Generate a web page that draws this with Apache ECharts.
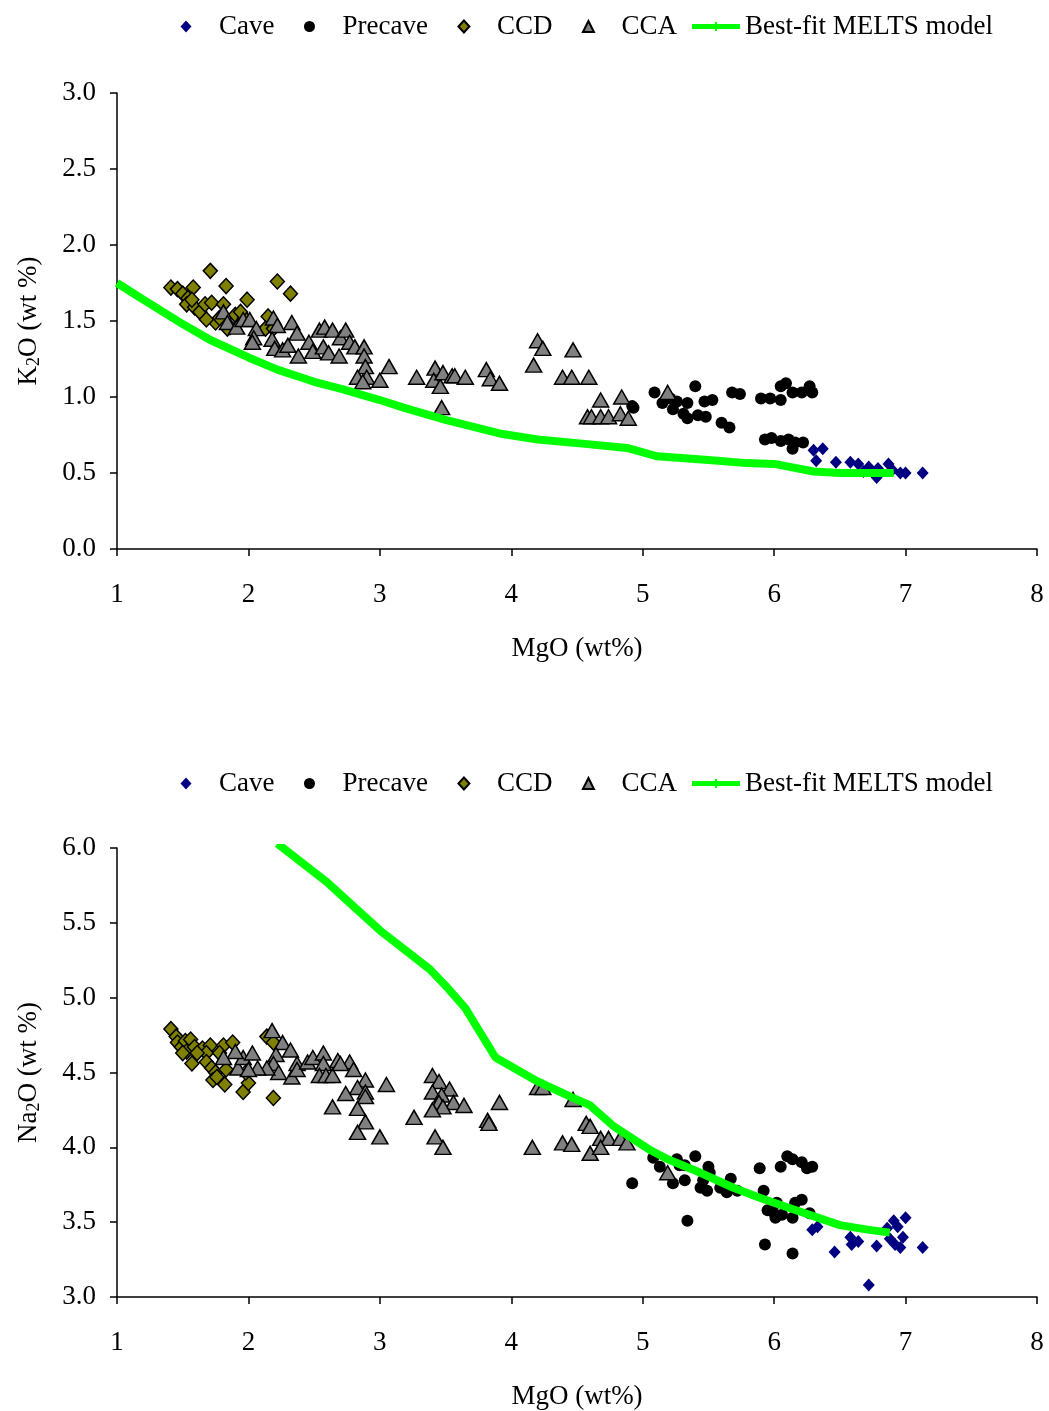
<!doctype html>
<html lang="en">
<head>
    <meta charset="UTF-8">
    <title>MgO variation diagrams</title>
    <script src="https://cdn.jsdelivr.net/npm/echarts@6/dist/echarts.min.js"></script>
    <style>
        html, body { margin: 0; padding: 0; background: #fff; }
        #chart { width: 1049px; height: 1411px; }
    </style>
</head>
<body>
<div id="chart"></div>
<script>
    // ---- data: [MgO, oxide] ----
    var legendNames = ['Cave', 'Precave', 'CCD', 'CCA', 'Best-fit MELTS model'];

    // top panel: K2O vs MgO
    var caveK = [[6.30,0.65],[6.37,0.66],[6.32,0.58],[6.47,0.57],[6.58,0.57],[6.64,0.56],[6.72,0.54],[6.79,0.53],
        [6.87,0.56],[6.90,0.52],[6.96,0.50],[7.00,0.50],[7.13,0.50],[6.78,0.47],[6.68,0.51]];
    var precaveK = [[4.92,0.94],[5.09,1.03],[5.15,0.96],[5.21,0.99],[5.26,0.97],[5.34,0.96],[5.23,0.92],[5.31,0.89],
        [5.34,0.86],[5.40,1.07],[5.42,0.88],[5.48,0.87],[5.47,0.97],[5.53,0.98],[5.60,0.83],[5.66,0.80],[5.68,1.03],
        [5.74,1.02],[5.90,0.99],[6.05,0.98],[6.05,1.07],[6.09,1.09],[6.14,1.03],[6.21,1.03],[6.27,1.07],[6.29,1.03],
        [5.93,0.72],[5.98,0.73],[6.05,0.71],[6.11,0.72],[6.16,0.70],[6.22,0.70],[6.14,0.66],[4.93,0.93],[5.97,0.99]];
    var ccdK = [[1.41,1.72],[1.46,1.71],[1.50,1.68],[1.54,1.65],[1.58,1.72],[1.71,1.83],[1.83,1.73],[1.99,1.64],
        [2.22,1.76],[2.32,1.68],[1.53,1.61],[1.59,1.59],[1.63,1.56],[1.67,1.61],[1.72,1.62],[1.75,1.49],[1.78,1.52],
        [1.86,1.46],[1.90,1.54],[1.97,1.52],[2.15,1.53],[2.13,1.45],[1.68,1.51],[1.57,1.64],[1.81,1.61],[1.94,1.56],
        [2.19,1.45],[1.84,1.45]];
    var ccaK = [[1.81,1.56],[1.84,1.49],[1.91,1.46],[1.96,1.51],[2.01,1.51],[2.06,1.45],[2.04,1.39],[2.03,1.36],
        [2.19,1.52],[2.22,1.47],[2.33,1.49],[2.37,1.42],[2.18,1.38],[2.20,1.32],[2.26,1.31],[2.30,1.34],[2.38,1.27],
        [2.46,1.36],[2.49,1.30],[2.54,1.44],[2.58,1.46],[2.64,1.44],[2.70,1.39],[2.74,1.44],[2.57,1.33],[2.61,1.29],
        [2.69,1.27],[2.77,1.36],[2.81,1.33],[2.88,1.33],[2.88,1.27],[2.89,1.20],[2.83,1.13],[2.90,1.13],[2.87,1.10],
        [3.00,1.11],[3.07,1.20],[3.28,1.13],[3.42,1.19],[3.41,1.11],[3.46,1.07],[3.48,1.16],[3.55,1.14],[3.57,1.14],
        [3.65,1.13],[3.81,1.18],[3.84,1.12],[3.91,1.09],[3.47,0.93],[4.20,1.37],[4.24,1.32],[4.17,1.21],[4.47,1.31],
        [4.39,1.13],[4.46,1.13],[4.59,1.13],[4.68,0.98],[4.84,1.00],[4.58,0.87],[4.61,0.87],[4.68,0.87],[4.74,0.87],
        [4.83,0.89],[4.89,0.86],[5.19,1.03]];
    var meltsK = [[1.0,1.75],[1.2,1.64],[1.5,1.48],[1.71,1.375],[2.0,1.26],[2.22,1.18],[2.5,1.10],[2.72,1.05],
        [3.0,0.98],[3.18,0.93],[3.5,0.85],[3.91,0.76],[4.2,0.72],[4.58,0.69],[4.88,0.665],[5.11,0.61],[5.5,0.585],
        [5.79,0.565],[6.0,0.56],[6.3,0.51],[6.5,0.50],[6.91,0.50]];

    // bottom panel: Na2O vs MgO
    var caveNa = [[6.29,3.45],[6.33,3.47],[6.46,3.30],[6.58,3.40],[6.59,3.35],[6.64,3.37],[6.78,3.34],[6.72,3.08],
        [6.86,3.46],[6.91,3.51],[6.94,3.47],[7.00,3.53],[6.88,3.39],[6.96,3.33],[6.98,3.40],[7.13,3.33],[6.92,3.35]];
    var precaveNa = [[4.92,3.76],[5.08,3.93],[5.13,3.87],[5.26,3.92],[5.28,3.88],[5.32,3.88],[5.40,3.94],[5.23,3.76],
        [5.32,3.78],[5.34,3.51],[5.44,3.73],[5.49,3.71],[5.50,3.87],[5.51,3.83],[5.46,3.78],[5.59,3.73],[5.64,3.70],
        [5.67,3.79],[5.72,3.71],[5.89,3.86],[5.92,3.71],[5.93,3.35],[5.95,3.58],[5.99,3.57],[6.02,3.63],[6.01,3.53],
        [6.06,3.55],[6.14,3.53],[6.16,3.63],[6.21,3.65],[6.05,3.87],[6.10,3.94],[6.14,3.92],[6.21,3.90],[6.25,3.86],
        [6.29,3.87],[6.14,3.29],[6.27,3.56]];
    var ccdNa = [[1.41,4.79],[1.45,4.74],[1.46,4.70],[1.49,4.67],[1.52,4.71],[1.56,4.72],[1.53,4.64],[1.50,4.63],
        [1.57,4.56],[1.59,4.67],[1.65,4.66],[1.71,4.68],[1.68,4.63],[1.68,4.57],[1.72,4.53],[1.75,4.50],[1.73,4.45],
        [1.76,4.47],[1.81,4.68],[1.88,4.70],[1.82,4.42],[1.83,4.52],[1.96,4.37],[2.00,4.43],[1.98,4.50],[2.14,4.74],
        [2.19,4.70],[2.19,4.33],[1.61,4.63],[1.78,4.63]];
    var ccaNa = [[2.18,4.78],[2.26,4.70],[2.32,4.65],[2.21,4.62],[2.19,4.56],[2.23,4.50],[2.14,4.53],[2.07,4.53],
        [1.92,4.53],[1.96,4.60],[2.03,4.63],[1.90,4.64],[1.81,4.60],[2.00,4.52],[2.33,4.47],[2.37,4.56],[2.37,4.52],
        [2.45,4.57],[2.49,4.60],[2.57,4.63],[2.57,4.56],[2.54,4.48],[2.59,4.48],[2.64,4.48],[2.68,4.58],[2.77,4.57],
        [2.80,4.52],[2.70,4.56],[2.89,4.45],[2.83,4.40],[2.89,4.37],[2.89,4.34],[2.74,4.36],[3.05,4.42],[2.64,4.27],
        [2.83,4.26],[2.89,4.17],[3.26,4.20],[2.83,4.10],[3.00,4.07],[3.40,4.48],[3.45,4.44],[3.40,4.37],[3.53,4.39],
        [3.47,4.35],[3.45,4.30],[3.56,4.30],[3.48,4.27],[3.40,4.25],[3.64,4.28],[3.91,4.30],[3.82,4.18],[3.83,4.16],
        [3.42,4.07],[3.48,4.00],[4.16,4.00],[4.39,4.03],[4.46,4.02],[4.20,4.40],[4.24,4.40],[4.47,4.32],[4.57,4.16],
        [4.60,4.14],[4.68,4.06],[4.74,4.06],[4.60,3.96],[4.68,4.00],[4.83,4.06],[4.88,4.03],[5.19,3.83]];
    var meltsNa = [[2.22,6.03],[2.6,5.77],[3.0,5.45],[3.38,5.19],[3.5,5.08],[3.65,4.93],[3.88,4.60],[4.2,4.44],
        [4.47,4.33],[4.6,4.28],[4.78,4.14],[5.06,3.98],[5.19,3.92],[5.44,3.83],[5.69,3.73],[5.9,3.66],[6.2,3.57],
        [6.5,3.48],[6.71,3.45],[6.88,3.43]];

    var serif = "'Liberation Serif', 'Times New Roman', serif";

    // legend icons: 52x16 box so the marker sits left of the text like the original
    var box = 'M0,0 L0,0 M52,16 L52,16 ';
    var icons = {
        Cave: 'path://' + box + 'M24,2 L29.5,8 L24,14 L18.5,8 Z',
        Precave: 'path://' + box + 'M18.5,8 A5.5,5.5 0 1,0 29.5,8 A5.5,5.5 0 1,0 18.5,8 Z',
        CCD: 'path://' + box + 'M24,2 L29.5,8 L24,14 L18.5,8 Z',
        CCA: 'path://' + box + 'M24,2.5 L29.5,13.5 L18.5,13.5 Z',
        // thick green bar with a small "+" tick in the middle
        'Best-fit MELTS model': 'path://' + box + 'M4,5.5 L52,5.5 L52,10.5 L4,10.5 Z M27,3.5 L29,3.5 L29,12.5 L27,12.5 Z'
    };

    function makeLegend(top) {
        return {
            top: top,
            left: 157,
            itemWidth: 52,
            itemHeight: 16,
            itemGap: 11,
            textStyle: {fontFamily: serif, fontSize: 27, color: '#000'},
            data: legendNames.map(function (n) {
                var item = {name: n, icon: icons[n]};
                if (n === 'Best-fit MELTS model') {
                    item.itemStyle = {color: '#00ff00'};
                }
                return item;
            })
        };
    }

    function makeX(idx) {
        return {
            gridIndex: idx,
            type: 'value',
            min: 1, max: 8, interval: 1,
            axisLine: {show: true, onZero: false, lineStyle: {color: '#000', width: 1.5}},
            axisTick: {show: true, length: 7, lineStyle: {color: '#000', width: 1.5}},
            axisLabel: {color: '#000', fontFamily: serif, fontSize: 27, margin: 32},
            splitLine: {show: false},
            name: 'MgO (wt%)',
            nameLocation: 'middle',
            nameGap: 86,
            nameTextStyle: {color: '#000', fontFamily: serif, fontSize: 27}
        };
    }

    function makeY(idx, min, max, el) {
        return {
            gridIndex: idx,
            type: 'value',
            min: min, max: max, interval: 0.5,
            axisLine: {show: true, lineStyle: {color: '#000', width: 1.5}},
            axisTick: {show: true, length: 7, lineStyle: {color: '#000', width: 1.5}},
            axisLabel: {
                color: '#000', fontFamily: serif, fontSize: 27, margin: 21,
                formatter: function (v) { return v.toFixed(1); }
            },
            splitLine: {show: false},
            name: '{a|' + el + '}{s|2}{a|O (wt %)}',
            nameLocation: 'middle',
            nameGap: 74,
            nameTextStyle: {
                color: '#000',
                rich: {
                    a: {fontFamily: serif, fontSize: 27, color: '#000'},
                    s: {fontFamily: serif, fontSize: 18, color: '#000', padding: [10, 0, 0, 0]}
                }
            }
        };
    }

    function scatterSet(idx, cave, precave, ccd, cca, melts) {
        return [
            {name: 'Cave', type: 'scatter', xAxisIndex: idx, yAxisIndex: idx, symbol: 'diamond', symbolSize: [12, 13],
                itemStyle: {color: '#000080', opacity: 1}, data: cave},
            {name: 'Precave', type: 'scatter', xAxisIndex: idx, yAxisIndex: idx, symbol: 'circle', symbolSize: 12,
                itemStyle: {color: '#000', opacity: 1}, data: precave},
            {name: 'CCD', type: 'scatter', xAxisIndex: idx, yAxisIndex: idx, symbol: 'diamond', symbolSize: [14, 15],
                itemStyle: {color: '#808000', borderColor: '#000', borderWidth: 1.5, opacity: 1}, data: ccd},
            {name: 'CCA', type: 'scatter', xAxisIndex: idx, yAxisIndex: idx, symbol: 'triangle', symbolSize: [16, 14],
                itemStyle: {color: '#808080', borderColor: '#000', borderWidth: 1.5, opacity: 1}, data: cca},
            {name: 'Best-fit MELTS model', type: 'line', xAxisIndex: idx, yAxisIndex: idx, showSymbol: false,
                symbol: 'none', itemStyle: {color: '#00ff00'}, lineStyle: {color: '#00ff00', width: 8},
                data: melts}
        ];
    }

    var myChart = echarts.init(document.getElementById('chart'));
    myChart.setOption({
        animation: false,
        backgroundColor: '#fff',
        legend: [makeLegend(8), makeLegend(765)],
        grid: [
            {left: 117, right: 12, top: 93, height: 456},
            {left: 117, right: 12, top: 848, height: 449}
        ],
        xAxis: [makeX(0), makeX(1)],
        yAxis: [makeY(0, 0, 3, 'K'), makeY(1, 3, 6, 'Na')],
        series: scatterSet(0, caveK, precaveK, ccdK, ccaK, meltsK)
            .concat(scatterSet(1, caveNa, precaveNa, ccdNa, ccaNa, meltsNa))
    });
</script>
</body>
</html>
